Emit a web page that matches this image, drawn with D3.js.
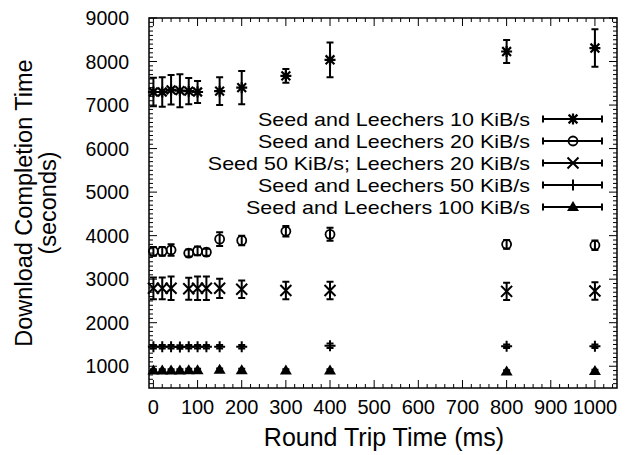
<!DOCTYPE html>
<html><head><meta charset="utf-8">
<script src="https://cdn.jsdelivr.net/npm/d3@7"></script>
<style>body{margin:0;background:#fff}svg{display:block}text{font-family:"Liberation Sans",Arial,sans-serif;fill:#000}</style>
</head><body>
<svg id="c" width="630" height="455"></svg>
<script>
// ---- data ----
const xTicks = [0,100,200,300,400,500,600,700,800,900,1000];
const yTicks = [1000,2000,3000,4000,5000,6000,7000,8000,9000];

const s10x = [0,20,40,60,80,100,150,200,300,400,800,1000];
const s10y = [7300,7300,7350,7330,7320,7300,7320,7400,7670,8040,8230,8310];
const s10e = [330,340,340,380,300,250,320,380,160,400,265,430];

const s20x = [0,20,40,80,100,120,150,200,300,400,800,1000];
const s20y = [3640,3640,3670,3600,3650,3620,3920,3890,4100,4030,3800,3780];
const s20e = [100,100,130,80,100,80,160,110,120,150,100,110];

const s5020x = [0,20,40,80,100,120,150,200,300,400,800,1000];
const s5020y = [2790,2790,2790,2780,2790,2790,2790,2770,2740,2740,2720,2730];
const s5020e = [250,250,270,250,270,270,220,200,200,200,200,200];

const s50x = [0,20,40,60,80,100,120,150,200,400,800,1000];
const s50y = [1450,1450,1450,1440,1450,1450,1450,1450,1450,1470,1460,1460];
const s50e = [40,40,40,40,40,40,40,40,40,50,40,40];

const s100x = [0,20,40,60,80,100,150,200,300,400,800,1000];
const s100y = [900,900,900,900,910,910,920,910,900,900,880,890];
const s100e = [30,30,30,30,30,30,30,30,30,30,30,30];

const labels = ["Seed and Leechers 10 KiB/s","Seed and Leechers 20 KiB/s","Seed 50 KiB/s; Leechers 20 KiB/s","Seed and Leechers 50 KiB/s","Seed and Leechers 100 KiB/s"];
const shapes = ["star","circle","cross","plus","triangle"];

const series = [
  {x:s10x,y:s10y,e:s10e},{x:s20x,y:s20y,e:s20e},{x:s5020x,y:s5020y,e:s5020e},
  {x:s50x,y:s50y,e:s50e},{x:s100x,y:s100y,e:s100e}
].map((s,i)=>({label:labels[i],shape:shapes[i],pts:s.x.map((v,j)=>({x:v,y:s.y[j],e:s.e[j]}))}));

// ---- layout ----
const L=149,R=617,T=18,B=388;
const svg=d3.select("#c");
const x=d3.scaleLinear().domain([-10,1050]).range([L,R]);
const y=d3.scaleLinear().domain([500,9000]).range([B,T]);

// minor ticks
const xMinor=d3.range(0,1050,20).filter(v=>v%100!==0);
const yMinor=d3.range(600,9000,100).filter(v=>v%1000!==0);
const g=svg.append("g").attr("stroke","#000").attr("stroke-width",1);
xMinor.forEach(v=>{g.append("line").attr("x1",x(v)).attr("x2",x(v)).attr("y1",B).attr("y2",B-4);
  g.append("line").attr("x1",x(v)).attr("x2",x(v)).attr("y1",T).attr("y2",T+4);});
xTicks.forEach(v=>{g.append("line").attr("x1",x(v)).attr("x2",x(v)).attr("y1",B).attr("y2",B-8);
  g.append("line").attr("x1",x(v)).attr("x2",x(v)).attr("y1",T).attr("y2",T+8);});
yMinor.forEach(v=>{g.append("line").attr("y1",y(v)).attr("y2",y(v)).attr("x1",L).attr("x2",L+4);
  g.append("line").attr("y1",y(v)).attr("y2",y(v)).attr("x1",R).attr("x2",R-4);});
yTicks.forEach(v=>{g.append("line").attr("y1",y(v)).attr("y2",y(v)).attr("x1",L).attr("x2",L+8);
  g.append("line").attr("y1",y(v)).attr("y2",y(v)).attr("x1",R).attr("x2",R-8);});
svg.append("rect").attr("x",L).attr("y",T).attr("width",R-L).attr("height",B-T)
  .attr("fill","none").attr("stroke","#000").attr("stroke-width",1.5);

// tick labels
svg.append("g").selectAll("text").data(xTicks).join("text")
  .attr("x",d=>x(d)).attr("y",B+26).attr("text-anchor","middle").attr("font-size",20).text(d=>d);
svg.append("g").selectAll("text").data(yTicks).join("text")
  .attr("x",L-20).attr("y",d=>y(d)+7).attr("text-anchor","end").attr("font-size",19.5).text(d=>d);

// axis titles
svg.append("text").attr("x",(L+R)/2+1).attr("y",446).attr("text-anchor","middle").attr("font-size",25).text("Round Trip Time (ms)");
const yt=svg.append("text").attr("transform","translate(32,203) rotate(-90)").attr("text-anchor","middle").attr("font-size",23.5);
yt.append("tspan").attr("x",0).attr("dy",0).text("Download Completion Time");
yt.append("tspan").attr("x",0).attr("dy",24).text("(seconds)");

// markers
function marker(sel,shape,cx,cy){
  const s=5.5;
  if(shape==="star"){
    sel.append("path").attr("d",`M${cx-s},${cy}H${cx+s}M${cx},${cy-s}V${cy+s}M${cx-s*0.8},${cy-s*0.8}L${cx+s*0.8},${cy+s*0.8}M${cx-s*0.8},${cy+s*0.8}L${cx+s*0.8},${cy-s*0.8}`)
      .attr("stroke","#000").attr("stroke-width",2.2).attr("fill","none");
  } else if(shape==="circle"){
    sel.append("circle").attr("cx",cx).attr("cy",cy).attr("r",4.5).attr("fill","none").attr("stroke","#000").attr("stroke-width",1.8);
  } else if(shape==="cross"){
    sel.append("path").attr("d",`M${cx-s},${cy-s}L${cx+s},${cy+s}M${cx-s},${cy+s}L${cx+s},${cy-s}`)
      .attr("stroke","#000").attr("stroke-width",2).attr("fill","none");
  } else if(shape==="plus"){
    sel.append("path").attr("d",`M${cx-s},${cy}H${cx+s}M${cx},${cy-s}V${cy+s}`)
      .attr("stroke","#000").attr("stroke-width",2).attr("fill","none");
  } else if(shape==="triangle"){
    sel.append("path").attr("d",`M${cx},${cy-6}L${cx+6},${cy+4}L${cx-6},${cy+4}Z`).attr("fill","#000");
  }
}

const data=svg.append("g");
series.forEach(s=>{
  s.pts.forEach(p=>{
    const cx=x(p.x), y1=y(p.y+p.e), y0=y(p.y-p.e);
    data.append("path").attr("d",`M${cx},${y1}V${y0}M${cx-3.5},${y1}H${cx+3.5}M${cx-3.5},${y0}H${cx+3.5}`)
      .attr("stroke","#000").attr("stroke-width",2).attr("fill","none");
    marker(data,s.shape,cx,y(p.y));
  });
});

// legend
const lg=svg.append("g");
series.forEach((s,i)=>{
  const ly=119+i*22;
  lg.append("text").attr("transform",`translate(530,${ly+7}) scale(1.13,1)`).attr("text-anchor","end").attr("font-size",19).text(s.label);
  lg.append("path").attr("d",`M543,${ly}H602M543,${ly-3.5}V${ly+3.5}M602,${ly-3.5}V${ly+3.5}`)
    .attr("stroke","#000").attr("stroke-width",2).attr("fill","none");
  marker(lg,s.shape,573,ly);
});
</script>
</body></html>
